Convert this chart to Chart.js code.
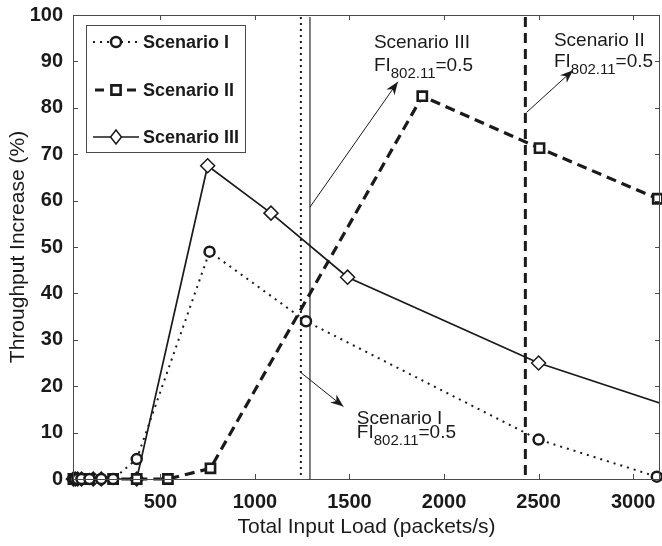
<!DOCTYPE html>
<html>
<head>
<meta charset="utf-8">
<script src="https://cdn.jsdelivr.net/npm/chart.js@4/dist/chart.umd.min.js"></script>
<style>
  html, body { margin: 0; padding: 0; background: #fff; }
  #wrap { width: 662px; height: 546px; }
</style>
</head>
<body>
<div id="wrap"><canvas id="chart" width="662" height="546"></canvas></div>
<script>
// Axis ticks
const xTicks = [500, 1000, 1500, 2000, 2500, 3000];
const yTicks = [0, 10, 20, 30, 40, 50, 60, 70, 80, 90, 100];
const xRange = [38, 3142];

// Series
const seriesNames = ['Scenario I', 'Scenario II', 'Scenario III'];
const loadI   = [40, 50, 62.5, 83, 125, 187.5, 250, 375, 760, 1270, 2500, 3125];
const gainI   = [0, 0, 0, 0, 0, 0, 0, 4.3, 49, 34, 8.5, 0.5];
const loadII  = [40, 50, 62.5, 83, 125, 250, 375, 540, 765, 1885, 2505, 3130];
const gainII  = [0, 0, 0, 0, 0, 0, 0, 0, 2.3, 82.5, 71.3, 60.4];
const loadIII = [40, 50, 62.5, 83, 145, 187.5, 375, 750, 1085, 1490, 2500, 3750];
const gainIII = [0, 0, 0, 0, 0, 0, 0, 67.5, 57.3, 43.5, 25, 8.2];

// Load at which FI_802.11 = 0.5 for each scenario
const fiLoads = [1243, 2430, 1291];

// Annotation callouts: arrow tail/head and text anchor, in axis units
const calloutNames = ['Scenario I', 'Scenario II', 'Scenario III'];
const calloutTail  = [[1238, 23.1], [2436, 79.0], [1291, 58.6]];
const calloutHead  = [[1468, 15.6], [2682, 88.1], [1756, 85.6]];
const calloutText  = [[1539, 12.9, 10.0], [2581, 94.4, 89.9], [1629, 94.0, 89.0]];

const INK = '#1a1a1a';
const FRAME = '#4a4a4a';
const CLEAR = 'rgba(0,0,0,0)';
const FONT = '"Liberation Sans", Arial, Helvetica, sans-serif';

const styles = [
  { dash: [2, 5], width: 2, point: 'circle', radius: 5, pw: 2.5 },
  { dash: [10, 6], width: 3.2, point: 'rect', radius: 6.5, pw: 2.6 },
  { dash: [], width: 1.7, point: 'rectRot', radius: 7, pw: 1.5 }
];

function pts(xs, ys) { return xs.map((x, i) => ({ x: x, y: ys[i] })); }

function drawMarker(ctx, kind, x, y, r, lw) {
  ctx.save();
  ctx.lineWidth = lw;
  ctx.strokeStyle = INK;
  ctx.fillStyle = '#fff';
  ctx.setLineDash([]);
  ctx.beginPath();
  if (kind === 'circle') {
    ctx.arc(x, y, r, 0, Math.PI * 2);
  } else if (kind === 'rect') {
    const s = Math.SQRT1_2 * r;
    ctx.rect(x - s, y - s, 2 * s, 2 * s);
  } else {
    ctx.moveTo(x, y - r); ctx.lineTo(x + r * 0.78, y); ctx.lineTo(x, y + r); ctx.lineTo(x - r * 0.78, y); ctx.closePath();
  }
  ctx.fill();
  ctx.stroke();
  ctx.restore();
}

// Frame, inward tick marks and FI reference lines
const framePlugin = {
  id: 'frame',
  beforeDatasetsDraw(chart) {
    const { ctx, chartArea: a, scales: { x } } = chart;
    ctx.save();
    const vStyles = [
      { dash: [2, 4], width: 2, color: INK },
      { dash: [10, 6], width: 3, color: INK },
      { dash: [], width: 1.5, color: '#555' }
    ];
    fiLoads.forEach((v, i) => {
      const px = x.getPixelForValue(v);
      ctx.beginPath();
      ctx.setLineDash(vStyles[i].dash);
      ctx.lineWidth = vStyles[i].width;
      ctx.strokeStyle = vStyles[i].color;
      ctx.moveTo(px, a.top + 2);
      ctx.lineTo(px, a.bottom);
      ctx.stroke();
    });
    ctx.restore();
  },
  afterDraw(chart) {
    const { ctx, chartArea: a, scales: { x, y } } = chart;
    ctx.save();
    ctx.strokeStyle = FRAME;
    ctx.lineWidth = 1;
    ctx.setLineDash([]);
    ctx.strokeRect(Math.round(a.left) + 0.5, Math.round(a.top) + 0.5, Math.round(a.right - a.left) - 1, Math.round(a.bottom - a.top));
    const tl = 5;
    ctx.beginPath();
    xTicks.forEach(v => {
      const px = Math.round(x.getPixelForValue(v)) + 0.5;
      ctx.moveTo(px, a.bottom); ctx.lineTo(px, a.bottom - tl);
      ctx.moveTo(px, a.top); ctx.lineTo(px, a.top + tl);
    });
    yTicks.forEach(v => {
      const py = Math.round(y.getPixelForValue(v)) + 0.5;
      ctx.moveTo(a.left, py); ctx.lineTo(a.left + tl, py);
      ctx.moveTo(a.right, py); ctx.lineTo(a.right - tl, py);
    });
    ctx.stroke();
    ctx.restore();
  }
};

function arrow(ctx, x0, y0, x1, y1) {
  ctx.beginPath();
  ctx.moveTo(x0, y0);
  ctx.lineTo(x1, y1);
  ctx.stroke();
  const ang = Math.atan2(y1 - y0, x1 - x0);
  const L = 13, W = 5;
  const c = Math.cos(ang), s = Math.sin(ang);
  const bx = x1 - L * c, by = y1 - L * s;
  const nx = x1 - L * 0.7 * c, ny = y1 - L * 0.7 * s;
  ctx.beginPath();
  ctx.moveTo(x1, y1);
  ctx.lineTo(bx - W * s, by + W * c);
  ctx.lineTo(nx, ny);
  ctx.lineTo(bx + W * s, by - W * c);
  ctx.closePath();
  ctx.fill();
}

// Callouts and legend
const notesPlugin = {
  id: 'notes',
  afterDraw(chart) {
    const { ctx, scales: { x, y } } = chart;
    ctx.save();
    ctx.strokeStyle = INK;
    ctx.fillStyle = INK;
    ctx.lineWidth = 1;
    ctx.setLineDash([]);
    calloutNames.forEach((name, i) => {
      arrow(ctx,
        x.getPixelForValue(calloutTail[i][0]), y.getPixelForValue(calloutTail[i][1]),
        x.getPixelForValue(calloutHead[i][0]), y.getPixelForValue(calloutHead[i][1]));
      const tx = x.getPixelForValue(calloutText[i][0]);
      const ty1 = y.getPixelForValue(calloutText[i][1]);
      const ty2 = y.getPixelForValue(calloutText[i][2]);
      ctx.textBaseline = 'middle';
      ctx.textAlign = 'left';
      ctx.font = '19px ' + FONT;
      ctx.fillText(name, tx, ty1);
      ctx.fillText('FI', tx, ty2);
      let cx = tx + ctx.measureText('FI').width;
      ctx.font = '15px ' + FONT;
      ctx.fillText('802.11', cx, ty2 + 8);
      cx += ctx.measureText('802.11').width;
      ctx.font = '19px ' + FONT;
      ctx.fillText('=0.5', cx, ty2);
    });

    // legend
    const bx = 86, by = 25, bw = 159, bh = 127;
    ctx.fillStyle = '#fff';
    ctx.fillRect(bx, by, bw, bh);
    ctx.strokeStyle = FRAME;
    ctx.lineWidth = 1;
    ctx.strokeRect(bx + 0.5, by + 0.5, bw, bh);
    const rows = [42, 90, 137];
    seriesNames.forEach((name, i) => {
      const st = styles[i];
      const ry = rows[i];
      ctx.save();
      ctx.strokeStyle = INK;
      ctx.lineWidth = st.width;
      ctx.setLineDash(st.dash);
      ctx.beginPath();
      if (i === 1) {
        ctx.setLineDash([]);
        ctx.moveTo(95, ry); ctx.lineTo(104, ry);
        ctx.moveTo(127, ry); ctx.lineTo(136, ry);
      } else {
        ctx.moveTo(93, ry); ctx.lineTo(139, ry);
      }
      ctx.stroke();
      ctx.restore();
      drawMarker(ctx, st.point, 116, ry, st.radius, st.pw);
      ctx.fillStyle = INK;
      ctx.font = 'bold 18px ' + FONT;
      ctx.textBaseline = 'middle';
      ctx.textAlign = 'left';
      ctx.fillText(name, 143, ry + 1);
    });
    ctx.restore();
  }
};

const loads = [loadI, loadII, loadIII];
const gains = [gainI, gainII, gainIII];

const datasets = seriesNames.map((name, i) => ({
  label: name,
  data: pts(loads[i], gains[i]),
  borderColor: INK,
  borderWidth: styles[i].width,
  borderDash: styles[i].dash,
  pointStyle: styles[i].point,
  pointRadius: styles[i].radius,
  pointBorderWidth: styles[i].pw,
  pointBorderColor: INK,
  pointBackgroundColor: '#fff',
  pointHoverRadius: styles[i].radius,
  tension: 0,
  fill: false,
  clip: i === 2 ? { left: 20, top: 20, right: 0, bottom: 20 } : false
}));

new Chart(document.getElementById('chart'), {
  type: 'line',
  data: { datasets: datasets },
  options: {
    responsive: false,
    animation: false,
    events: [],
    layout: { autoPadding: false, padding: { top: 15, right: 2, left: 0, bottom: 0 } },
    plugins: { legend: { display: false }, tooltip: { enabled: false } },
    scales: {
      x: {
        type: 'linear',
        min: xRange[0],
        max: xRange[1],
        afterBuildTicks(scale) { scale.ticks = xTicks.map(v => ({ value: v })); },
        afterFit(scale) { scale.height = 67; },
        grid: { display: true, drawOnChartArea: false, drawTicks: true, tickLength: 11, color: CLEAR, tickColor: CLEAR },
        border: { display: false },
        ticks: { color: INK, font: { family: FONT, size: 20, weight: 'bold' }, padding: 0, maxRotation: 0, autoSkip: false, callback: v => String(v) },
        title: { display: true, text: 'Total Input Load (packets/s)', color: INK, font: { family: FONT, size: 21 }, padding: { top: 0, bottom: 6 } }
      },
      y: {
        type: 'linear',
        min: 0,
        max: 100,
        afterBuildTicks(scale) { scale.ticks = yTicks.map(v => ({ value: v })); },
        afterFit(scale) { scale.width = 73; },
        grid: { display: true, drawOnChartArea: false, drawTicks: true, tickLength: 10, color: CLEAR, tickColor: CLEAR },
        border: { display: false },
        ticks: { color: INK, font: { family: FONT, size: 20, weight: 'bold' }, padding: 0, callback: v => String(v) },
        title: { display: true, text: 'Throughput Increase (%)', color: INK, font: { family: FONT, size: 21 }, padding: { top: 6, bottom: 0 } }
      }
    }
  },
  plugins: [framePlugin, notesPlugin]
});
</script>
</body>
</html>
